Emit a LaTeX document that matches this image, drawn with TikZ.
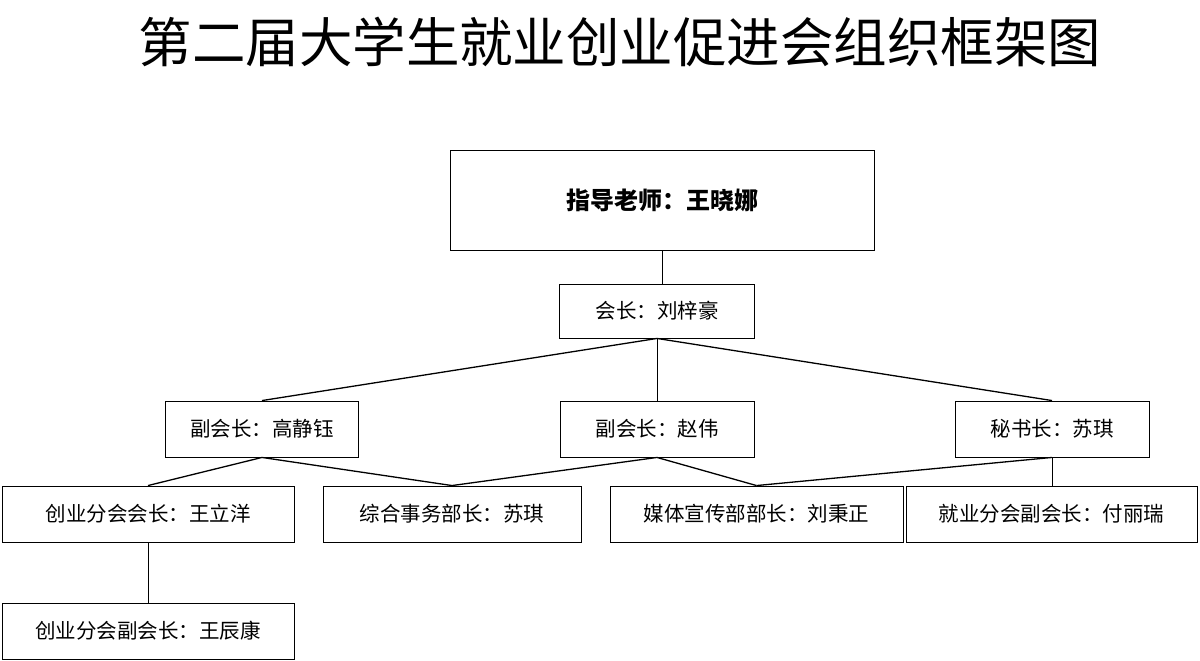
\documentclass[tikz,border=0pt]{standalone}
\usepackage{fontspec}
\setmainfont{Noto Sans CJK SC}
\begin{document}
\begin{tikzpicture}[x=1pt,y=-1pt,
  bx/.style={draw,line width=0.9pt,inner sep=0pt,font=\fontsize{20.5}{22}\selectfont},
  ln/.style={line width=1.3pt}]
\useasboundingbox (0,0) rectangle (1200,661);
\node[font=\fontsize{53.5}{58}\selectfont] (title) at (620,42) {第二届大学生就业创业促进会组织框架图};
\node[bx,minimum width=424pt,minimum height=100pt,font=\fontsize{24}{26}\selectfont\bfseries] (t) at (662,200) {指导老师：王晓娜};
\node[bx,minimum width=195pt,minimum height=54pt] (h) at (657,311) {会长：刘梓豪};
\coordinate (hj) at (662,284);
\node[bx,minimum width=193pt,minimum height=56pt] (v1) at (262,429) {副会长：高静钰};
\node[bx,minimum width=194pt,minimum height=56pt] (v2) at (657,429) {副会长：赵伟};
\node[bx,minimum width=194pt,minimum height=56pt] (s) at (1052,429) {秘书长：苏琪};
\node[bx,minimum width=292pt,minimum height=56pt] (a) at (148,514) {创业分会会长：王立洋};
\node[bx,minimum width=258pt,minimum height=56pt] (b) at (452,514) {综合事务部长：苏琪};
\node[bx,minimum width=293pt,minimum height=56pt] (c) at (756.5,514) {媒体宣传部部长：刘秉正};
\node[bx,minimum width=291pt,minimum height=56pt] (d) at (1051.5,514) {就业分会副会长：付丽瑞};
\node[bx,minimum width=292pt,minimum height=56pt] (e) at (148,631) {创业分会副会长：王辰康};
\draw[line width=0.9pt] (t.south) -- (hj);
\draw[ln] (h.south) -- (v1.north);
\draw[line width=0.9pt] (h.south) -- (v2.north);
\draw[ln] (h.south) -- (s.north);
\draw[ln] (v1.south) -- (a.north);
\draw[ln] (v1.south) -- (b.north);
\draw[ln] (v2.south) -- (b.north);
\draw[ln] (v2.south) -- (c.north);
\draw[ln] (s.south) -- (c.north);
\draw[line width=0.9pt] (s.south) -- (s.south |- d.north);
\draw[line width=0.9pt] (a.south) -- (e.north);
\end{tikzpicture}
\end{document}
